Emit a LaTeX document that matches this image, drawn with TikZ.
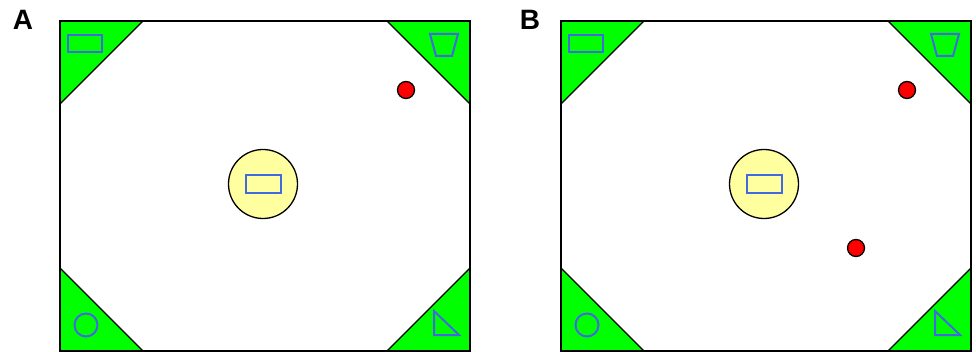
\documentclass[tikz,border=0pt]{standalone}
\usepackage{fontspec}
\setmainfont{Liberation Sans}
\definecolor{cgreen}{RGB}{0,255,0}
\definecolor{cblue}{RGB}{65,105,225}
\definecolor{cyellow}{RGB}{255,255,160}
\definecolor{cred}{RGB}{255,0,0}
\begin{document}
\begin{tikzpicture}[x=1pt,y=-1pt,
  corner/.style={fill=cgreen,draw=black,line width=1.3pt,line join=miter},
  icon/.style={draw=cblue,line width=2pt},
  dot/.style={circle,fill=cred,draw=black,line width=1.3pt,minimum size=17pt,inner sep=0pt},
  hub/.style={circle,fill=cyellow,draw=black,line width=1.3pt,minimum size=69pt,inner sep=0pt},
  panellabel/.style={font=\bfseries\fontsize{28}{28}\selectfont,anchor=center,inner sep=0pt}]
\useasboundingbox (0,0) rectangle (976,352);
\foreach \ox/\lab in {0/A,501/B}{
  \begin{scope}[xshift=\ox pt]
    \fill[white] (60,21) rectangle (470,351);
    \draw[corner] (60,21) -- (143,21) -- (60,104) -- cycle;
    \draw[corner] (387,21) -- (470,21) -- (470,104) -- cycle;
    \draw[corner] (60,268) -- (60,351) -- (143,351) -- cycle;
    \draw[corner] (470,268) -- (470,351) -- (387,351) -- cycle;
    \draw[black,line width=1.5pt] (60,21) rectangle (470,351);
    \draw[icon] (68,35) rectangle (102,52);
    \draw[icon] (430,34) -- (458,34) -- (452,56) -- (436,56) -- cycle;
    \draw[icon] (86,325) circle (11.5);
    \draw[icon] (434,311) -- (434,335) -- (459,335) -- cycle;
    \node[hub] (hub\lab) at (263,184) {};
    \draw[icon] (246,175) rectangle (281,193);
    \node[dot] (dot1\lab) at (406,90) {};
  \end{scope}
}
\node[dot] (dot2B) at (856,248) {};
\node[panellabel] (labA) at (23,20) {A};
\node[panellabel] (labB) at (530,20) {B};
\end{tikzpicture}
\end{document}
